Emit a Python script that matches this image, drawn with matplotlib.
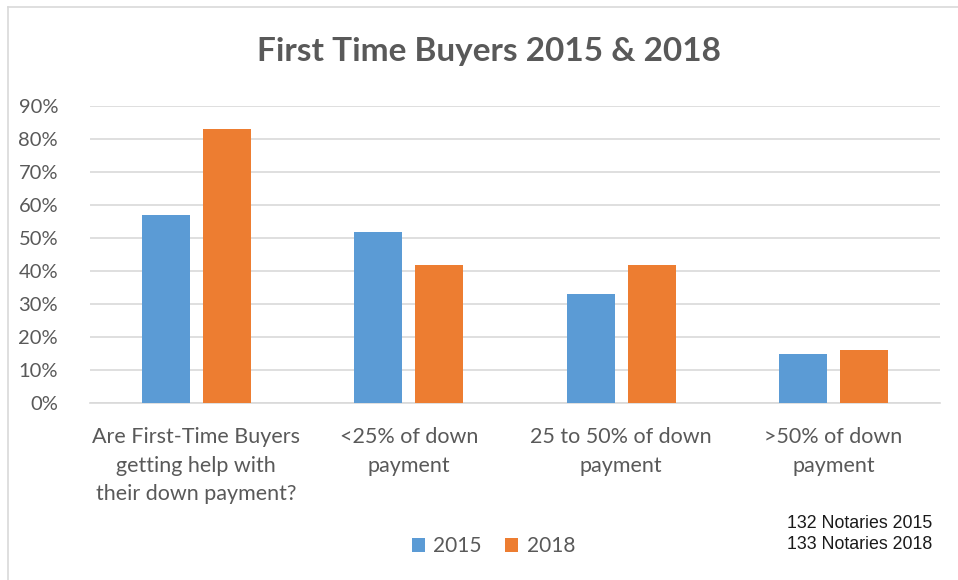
import matplotlib
matplotlib.use('Agg')
import matplotlib.pyplot as plt
import numpy as np
from matplotlib.lines import Line2D

categories = ['Are First-Time Buyers\ngetting help with\ntheir down payment?',
              '<25% of down\npayment',
              '25 to 50% of down\npayment',
              '>50% of down\npayment']
years = ['2015', '2018']
vals_2015 = [0.57, 0.52, 0.33, 0.15]
vals_2018 = [0.83, 0.42, 0.42, 0.16]
yticks = [0, 0.1, 0.2, 0.3, 0.4, 0.5, 0.6, 0.7, 0.8, 0.9]

blue = '#5B9BD5'
orange = '#ED7D31'
gray = '#595959'

plt.rcParams['font.family'] = ['Lato', 'DejaVu Sans']

fig = plt.figure(figsize=(9.58, 5.8), dpi=100)
# chart frame: only top and left edges show in the reference
fig.lines.append(Line2D([0.0085, 1.0], [0.988, 0.988], transform=fig.transFigure,
                        color='#d9d9d9', linewidth=1.2))
fig.lines.append(Line2D([0.0085, 0.0085], [0.0, 0.988], transform=fig.transFigure,
                        color='#d9d9d9', linewidth=1.2))
ax = fig.add_axes([0.094, 0.305, 0.887, 0.512])

x = np.arange(len(categories))
w = 0.226
off = 0.143
ax.bar(x - off, vals_2015, w, color=blue, label=years[0], zorder=3)
ax.bar(x + off, vals_2018, w, color=orange, label=years[1], zorder=3)

ax.set_xlim(-0.5, len(categories) - 0.5)
ax.set_ylim(0, 0.9)
ax.set_yticks(yticks)
ax.set_yticklabels([f'{int(round(t * 100))}%' for t in yticks], fontsize=14.5, color=gray)
ax.set_xticks(x)
ax.set_xticklabels(categories, fontsize=15.5, color=gray, linespacing=1.55)
ax.tick_params(axis='both', length=0)
ax.tick_params(axis='y', pad=23)
ax.tick_params(axis='x', pad=17)
ax.grid(axis='y', color='#d9d9d9', linewidth=1.2, zorder=0)
for s in ['top', 'right', 'left']:
    ax.spines[s].set_visible(False)
ax.spines['bottom'].set_color('#d9d9d9')
ax.spines['bottom'].set_linewidth(1.2)

fig.text(0.51, 0.912, 'First Time Buyers 2015 & 2018', ha='center', va='center',
         fontsize=24, fontweight='bold', color=gray)

leg = fig.legend(loc='center', bbox_to_anchor=(0.515, 0.058), ncol=2, frameon=False,
                 fontsize=15, handlelength=0.65, handleheight=0.65, columnspacing=1.1,
                 handletextpad=0.4)
for t in leg.get_texts():
    t.set_color(gray)

fig.text(0.973, 0.079, '132 Notaries 2015\n133 Notaries 2018', ha='right', va='center',
         fontsize=12.8, family='Liberation Sans', color='#1a1a1a', linespacing=1.3)

fig.savefig('out.png', dpi=100, facecolor='white')
